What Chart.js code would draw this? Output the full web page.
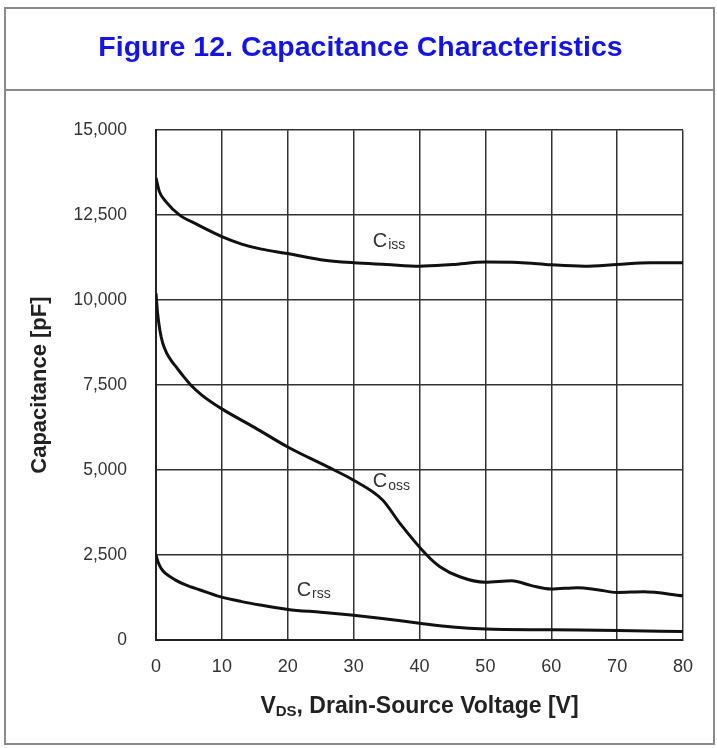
<!DOCTYPE html>
<html>
<head>
<meta charset="utf-8">
<script src="https://cdn.jsdelivr.net/npm/chart.js@4"></script>
<style>
  html, body { margin: 0; padding: 0; background: #fff; }
  #wrap { width: 717px; height: 748px; }
</style>
</head>
<body>
<div id="wrap"><canvas id="myChart" width="717" height="748"></canvas></div>
<script>
// データ (VDS [V], capacitance [pF])
const vdsIss = [0, 0.5, 1.5, 3.6, 6, 10, 13, 16, 20, 25, 30, 35, 40, 45, 50, 55, 60, 65, 70, 75, 80];
const ciss   = [13600, 13200, 12900, 12500, 12250, 11870, 11650, 11500, 11370, 11190, 11100, 11050, 11000, 11050, 11120, 11110, 11040, 11000, 11050, 11100, 11100];

const vdsOss = [0, 0.25, 0.6, 1, 1.6, 2.4, 3.2, 4.2, 5.2, 7, 10, 15, 20, 26, 30, 34.4, 37, 41.1, 43.1, 46.1, 50, 54, 57, 60, 64, 67, 70, 74, 80];
const coss   = [10200, 9600, 9100, 8750, 8450, 8200, 8000, 7750, 7520, 7200, 6800, 6250, 5680, 5100, 4700, 4120, 3440, 2500, 2156, 1860, 1700, 1740, 1600, 1500, 1540, 1480, 1400, 1420, 1300];

const vdsRss = [0, 0.3, 0.8, 1.5, 2.9, 4.5, 6.7, 9.7, 13, 15.8, 20, 25, 30, 34, 40, 45, 50, 60, 70, 80];
const crss   = [2500, 2300, 2100, 1950, 1770, 1620, 1470, 1275, 1130, 1030, 900, 815, 725, 640, 495, 385, 325, 300, 280, 250];

const xTicks = [0, 10, 20, 30, 40, 50, 60, 70, 80];
const yTicks = [0, 2500, 5000, 7500, 10000, 12500, 15000];

// curve labels: [main, subscript, x, y]
const curveLabels = [
  ['C', 'iss', 32.9, 11735],
  ['C', 'oss', 32.9, 4650],
  ['C', 'rss', 21.35, 1456],
];

const FONT = '"Liberation Sans", Arial, sans-serif';

function toPoints(xs, ys) {
  return xs.map((x, i) => ({ x: x, y: ys[i] }));
}

function lineSet(label, xs, ys) {
  return {
    label: label,
    data: toPoints(xs, ys),
    borderColor: '#111',
    borderWidth: 3,
    pointRadius: 0,
    showLine: true,
    fill: false,
    cubicInterpolationMode: 'monotone',
  };
}

// 枠とカーブのラベル
const framePlugin = {
  id: 'frame',
  beforeDraw(chart) {
    const ctx = chart.ctx;
    ctx.save();
    ctx.fillStyle = '#fff';
    ctx.fillRect(0, 0, chart.width, chart.height);
    ctx.restore();
  },
  afterDraw(chart) {
    const ctx = chart.ctx;
    const xs = chart.scales.x;
    const ys = chart.scales.y;
    ctx.save();
    ctx.strokeStyle = '#8a8a8a';
    ctx.lineWidth = 2;
    ctx.strokeRect(5, 8, 709, 736);
    ctx.beginPath();
    ctx.moveTo(5, 90);
    ctx.lineTo(714, 90);
    ctx.stroke();

    ctx.fillStyle = '#333';
    ctx.textBaseline = 'middle';
    ctx.textAlign = 'left';
    curveLabels.forEach(l => {
      const px = xs.getPixelForValue(l[2]);
      const py = ys.getPixelForValue(l[3]);
      ctx.font = '20px ' + FONT;
      ctx.fillText(l[0], px, py);
      const w = ctx.measureText(l[0]).width;
      ctx.font = '14px ' + FONT;
      ctx.fillText(l[1], px + w + 1, py + 4);
    });
    ctx.restore();
  }
};

// x軸タイトル (V_DS の下付き文字)
const xTitlePlugin = {
  id: 'xTitle',
  afterDraw(chart) {
    const ctx = chart.ctx;
    const area = chart.chartArea;
    const cx = (area.left + area.right) / 2;
    const y = 707;
    const parts = [
      ['V', 'bold 23px ' + FONT, 0],
      ['DS', 'bold 15px ' + FONT, 5],
      [', Drain-Source Voltage [V]', 'bold 23px ' + FONT, 0],
    ];
    ctx.save();
    ctx.fillStyle = '#222';
    ctx.textBaseline = 'middle';
    ctx.textAlign = 'left';
    let total = 0;
    parts.forEach(p => { ctx.font = p[1]; total += ctx.measureText(p[0]).width; });
    let x = cx - total / 2;
    parts.forEach(p => {
      ctx.font = p[1];
      ctx.fillText(p[0], x, y + p[2]);
      x += ctx.measureText(p[0]).width;
    });
    ctx.restore();
  }
};

const config = {
  type: 'scatter',
  data: {
    datasets: [
      lineSet('Ciss', vdsIss, ciss),
      lineSet('Coss', vdsOss, coss),
      lineSet('Crss', vdsRss, crss),
    ]
  },
  options: {
    responsive: false,
    animation: false,
    layout: { padding: { left: 4, right: 0, top: 8, bottom: 0 } },
    plugins: {
      legend: { display: false },
      tooltip: { enabled: false },
      title: {
        display: true,
        text: 'Figure 12. Capacitance Characteristics',
        color: '#1414e6',
        font: { family: FONT, size: 28.5, weight: 'bold' },
        padding: { top: 23, bottom: 65 },
      },
    },
    scales: {
      x: {
        type: 'linear',
        min: 0,
        max: 80,
        afterBuildTicks: s => { s.ticks = xTicks.map(v => ({ value: v })); },
        afterFit: s => { s.height = 108; },
        ticks: {
          color: '#333',
          font: { family: FONT, size: 18 },
          padding: 16,
          maxRotation: 0,
        },
        grid: { color: '#333', lineWidth: 1.5, drawTicks: false },
        border: { color: '#222', width: 2 },
      },
      y: {
        type: 'linear',
        min: 0,
        max: 15000,
        afterBuildTicks: s => { s.ticks = yTicks.map(v => ({ value: v })); },
        afterFit: s => { s.width = 152; },
        ticks: {
          color: '#333',
          font: { family: FONT, size: 17.5 },
          padding: 29,
          callback: v => v.toLocaleString('en-US'),
        },
        title: {
          display: true,
          text: 'Capacitance [pF]',
          color: '#222',
          font: { family: FONT, size: 22, weight: 'bold' },
          padding: { top: 23, bottom: 0 },
        },
        grid: { color: '#333', lineWidth: 1.5, drawTicks: false },
        border: { color: '#222', width: 2 },
      },
      yR: {
        position: 'right',
        display: true,
        afterFit: s => { s.width = 34; },
        ticks: { display: false },
        grid: { display: false },
        border: { display: false },
      }
    }
  },
  plugins: [framePlugin, xTitlePlugin]
};

const myChart = new Chart(document.getElementById('myChart'), config);
</script>
</body>
</html>
